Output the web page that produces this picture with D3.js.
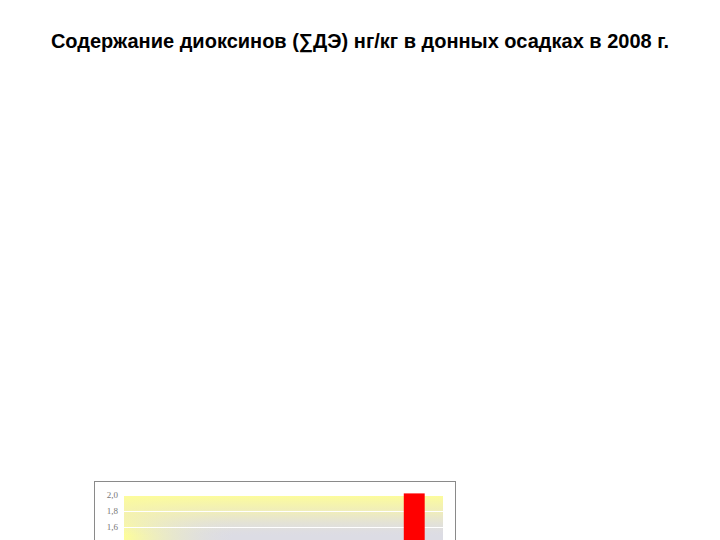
<!DOCTYPE html>
<html>
<head>
<meta charset="utf-8">
<script src="https://cdn.jsdelivr.net/npm/d3@7"></script>
<style>
  html, body { margin: 0; padding: 0; background: #fff; }
  svg { display: block; }
</style>
</head>
<body>
<div id="chart"></div>
<script>
// ============================================================
// Data (only the top of the chart is visible in the picture)
// ============================================================
const TITLE = 'Содержание диоксинов (∑ДЭ) нг/кг в донных осадках в 2008 г.';
const stations = ['1', '2', '3', '4', '5', '6'];
const values = [null, null, null, null, null, 2.02];
const yTicks = [0, 0.2, 0.4, 0.6, 0.8, 1.0, 1.2, 1.4, 1.6, 1.8, 2.0];

const W = 720, H = 540;

const svg = d3.select('#chart')
    .append('svg')
    .attr('width', W)
    .attr('height', H);

// title
svg.append('text')
    .attr('x', 360)
    .attr('y', 48)
    .attr('text-anchor', 'middle')
    .attr('font-family', 'Liberation Sans, Arial, sans-serif')
    .attr('font-weight', 'bold')
    .attr('font-size', 20)
    .attr('fill', '#000')
    .text(TITLE);

// ============================================================
// Chart frame
// ============================================================
const frame = { left: 94, top: 481, right: 455, bottom: 720 };
const plot = { left: 124, right: 443, top: 495, bottom: 655 };

svg.append('rect')
    .attr('x', frame.left + 0.5)
    .attr('y', frame.top + 0.5)
    .attr('width', frame.right - frame.left)
    .attr('height', frame.bottom - frame.top)
    .attr('fill', '#fff')
    .attr('stroke', '#8a8a8a');

const x = d3.scaleBand()
    .domain(stations)
    .range([plot.left, plot.right])
    .paddingInner(0.6)
    .paddingOuter(0.35);

const y = d3.scaleLinear()
    .domain([0, 2.0])
    .range([plot.bottom, plot.top]);

// background gradients: yellow at top and at left, fading to grey
const defs = svg.append('defs');
const gV = defs.append('linearGradient')
    .attr('id', 'gV')
    .attr('gradientUnits', 'userSpaceOnUse')
    .attr('x1', 0).attr('y1', plot.top)
    .attr('x2', 0).attr('y2', plot.top + 40);
gV.append('stop').attr('offset', 0).attr('stop-color', '#fdfd9a').attr('stop-opacity', 1);
gV.append('stop').attr('offset', 0.45).attr('stop-color', '#f3f0b4').attr('stop-opacity', 0.8);
gV.append('stop').attr('offset', 1).attr('stop-color', '#e6e4d8').attr('stop-opacity', 0);

const gH = defs.append('linearGradient')
    .attr('id', 'gH')
    .attr('gradientUnits', 'userSpaceOnUse')
    .attr('x1', plot.left).attr('y1', 0)
    .attr('x2', plot.left + 110).attr('y2', 0);
gH.append('stop').attr('offset', 0).attr('stop-color', '#fdfd9a').attr('stop-opacity', 1);
gH.append('stop').attr('offset', 1).attr('stop-color', '#e0e0e2').attr('stop-opacity', 0);

['#dcdce4', 'url(#gH)', 'url(#gV)'].forEach(fill => {
    svg.append('rect')
        .attr('x', plot.left).attr('y', plot.top)
        .attr('width', plot.right - plot.left)
        .attr('height', plot.bottom - plot.top)
        .attr('fill', fill);
});

// grid lines
svg.append('g')
    .selectAll('line')
    .data(yTicks.slice(1))
    .join('line')
    .attr('x1', plot.left)
    .attr('x2', plot.right)
    .attr('y1', d => Math.round(y(d)) + 0.5)
    .attr('y2', d => Math.round(y(d)) + 0.5)
    .attr('stroke', '#ffffff')
    .attr('stroke-width', 1.2);

// y axis labels (only the ones that fall inside the page)
const fmt = d => d3.format('.1f')(d).replace('.', ',');
const yAxis = svg.append('g')
    .attr('transform', `translate(${plot.left - 3},0)`)
    .call(d3.axisLeft(y)
        .tickValues(yTicks.filter(t => y(t) < H - 6))
        .tickFormat(fmt)
        .tickSize(0));
yAxis.select('.domain').remove();
yAxis.selectAll('text')
    .attr('font-family', 'Liberation Serif, Times New Roman, serif')
    .attr('font-size', 9)
    .attr('fill', '#777');

// bars
svg.append('g')
    .selectAll('rect')
    .data(stations.map((s, i) => ({ s, v: values[i] })).filter(d => d.v != null))
    .join('rect')
    .attr('x', d => x(d.s))
    .attr('y', d => y(d.v))
    .attr('width', x.bandwidth())
    .attr('height', d => y(0) - y(d.v))
    .attr('fill', '#ff0000');
</script>
</body>
</html>
